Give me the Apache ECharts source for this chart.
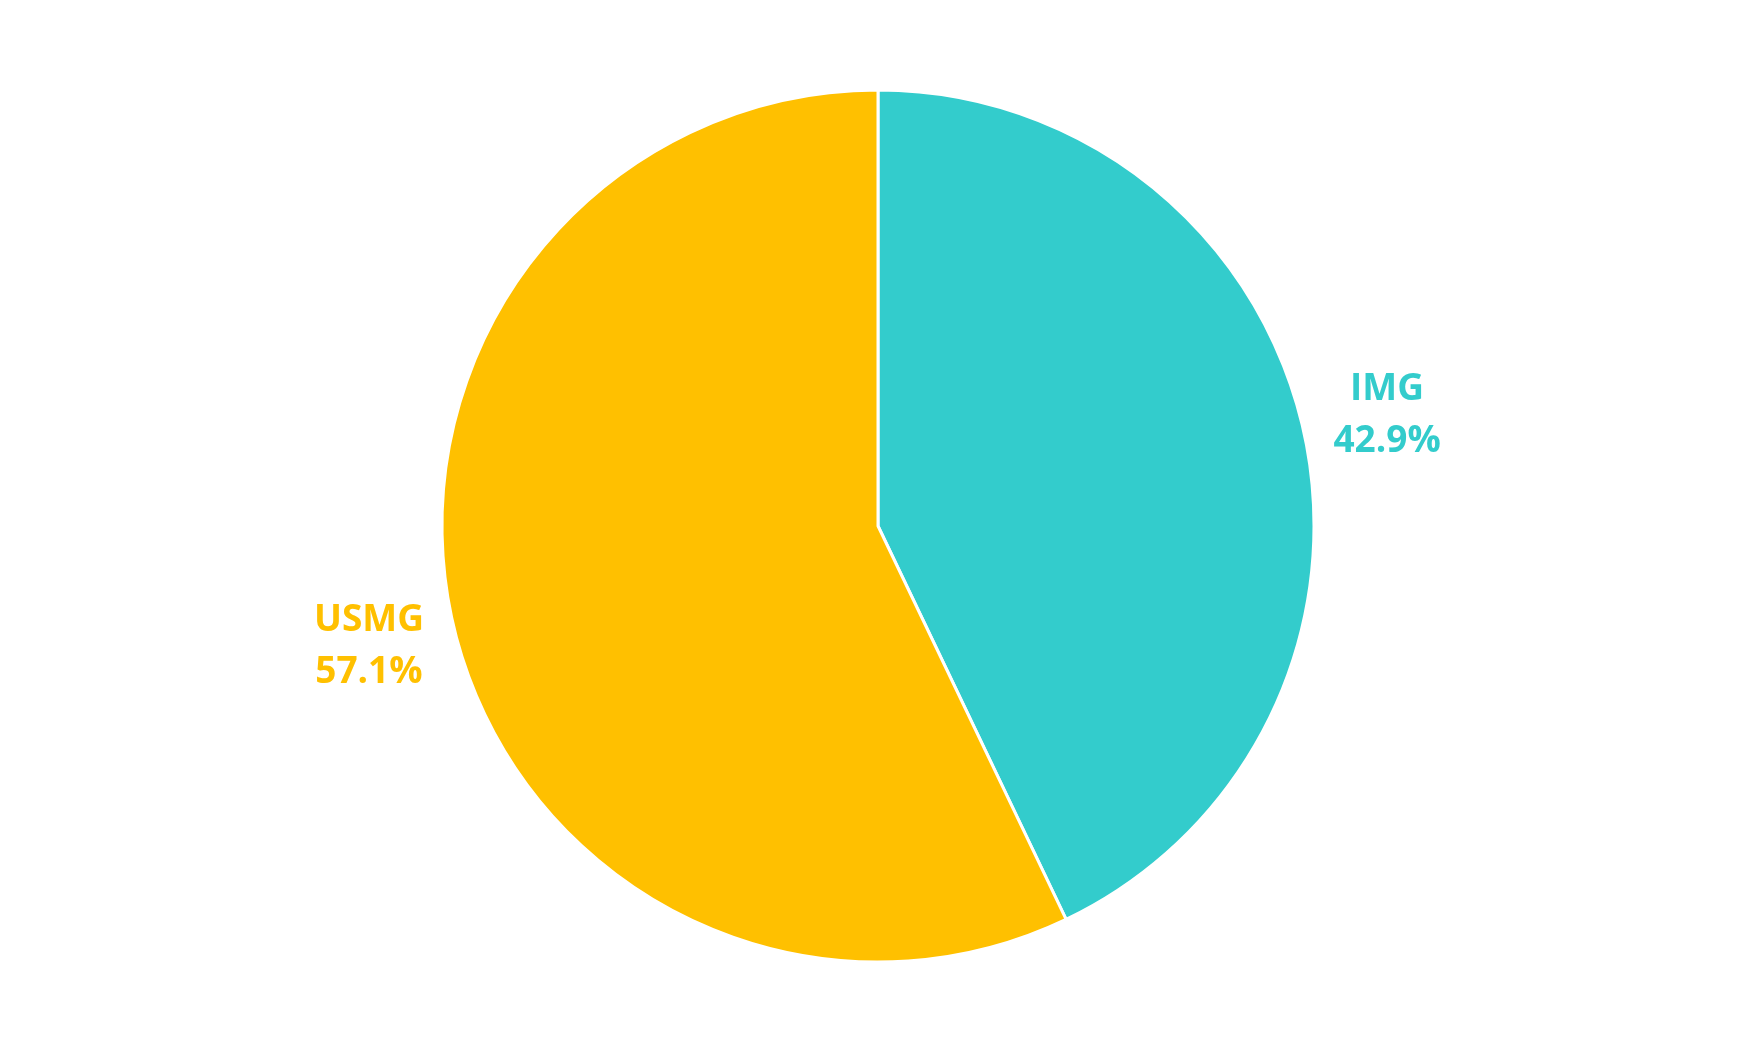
<!DOCTYPE html>
<html>
<head>
<meta charset="utf-8">
<script src="https://cdn.jsdelivr.net/npm/echarts@6/dist/echarts.min.js"></script>
<style>
html,body{margin:0;padding:0;background:#fff;}
#chart{width:1757px;height:1052px;}
</style>
</head>
<body>
<div id="chart"></div>
<script>
const categories = ['IMG', 'USMG'];
const values = [42.9, 57.1];
const colors = ['#33CCCC', '#FFC000'];

const chart = echarts.init(document.getElementById('chart'));
chart.setOption({
  animation: false,
  backgroundColor: '#ffffff',
  series: [{
    type: 'pie',
    center: [878, 526],
    radius: 436,
    startAngle: 90,
    clockwise: true,
    avoidLabelOverlap: false,
    data: categories.map((c, i) => ({
      name: c,
      value: values[i],
      itemStyle: { color: colors[i] },
      label: { color: colors[i] }
    })),
    itemStyle: { borderColor: '#ffffff', borderWidth: 3 },
    label: {
      show: true,
      position: 'outside',
      formatter: '{b}\n{d}%',
      fontFamily: 'Open Sans',
      fontWeight: 'bold',
      fontSize: 37,
      lineHeight: 52,
      align: 'center'
    },
    labelLine: {
      show: true,
      length: 86,
      length2: 0,
      lineStyle: { color: 'rgba(0,0,0,0)', width: 0 }
    },
    labelLayout: function (p) {
      const pts = p.labelLinePoints;
      if (pts && pts.length > 1) {
        return { x: pts[1][0], y: pts[1][1] + 5, align: 'center', verticalAlign: 'middle' };
      }
      return {};
    },
    emphasis: { disabled: true }
  }]
});
</script>
</body>
</html>
